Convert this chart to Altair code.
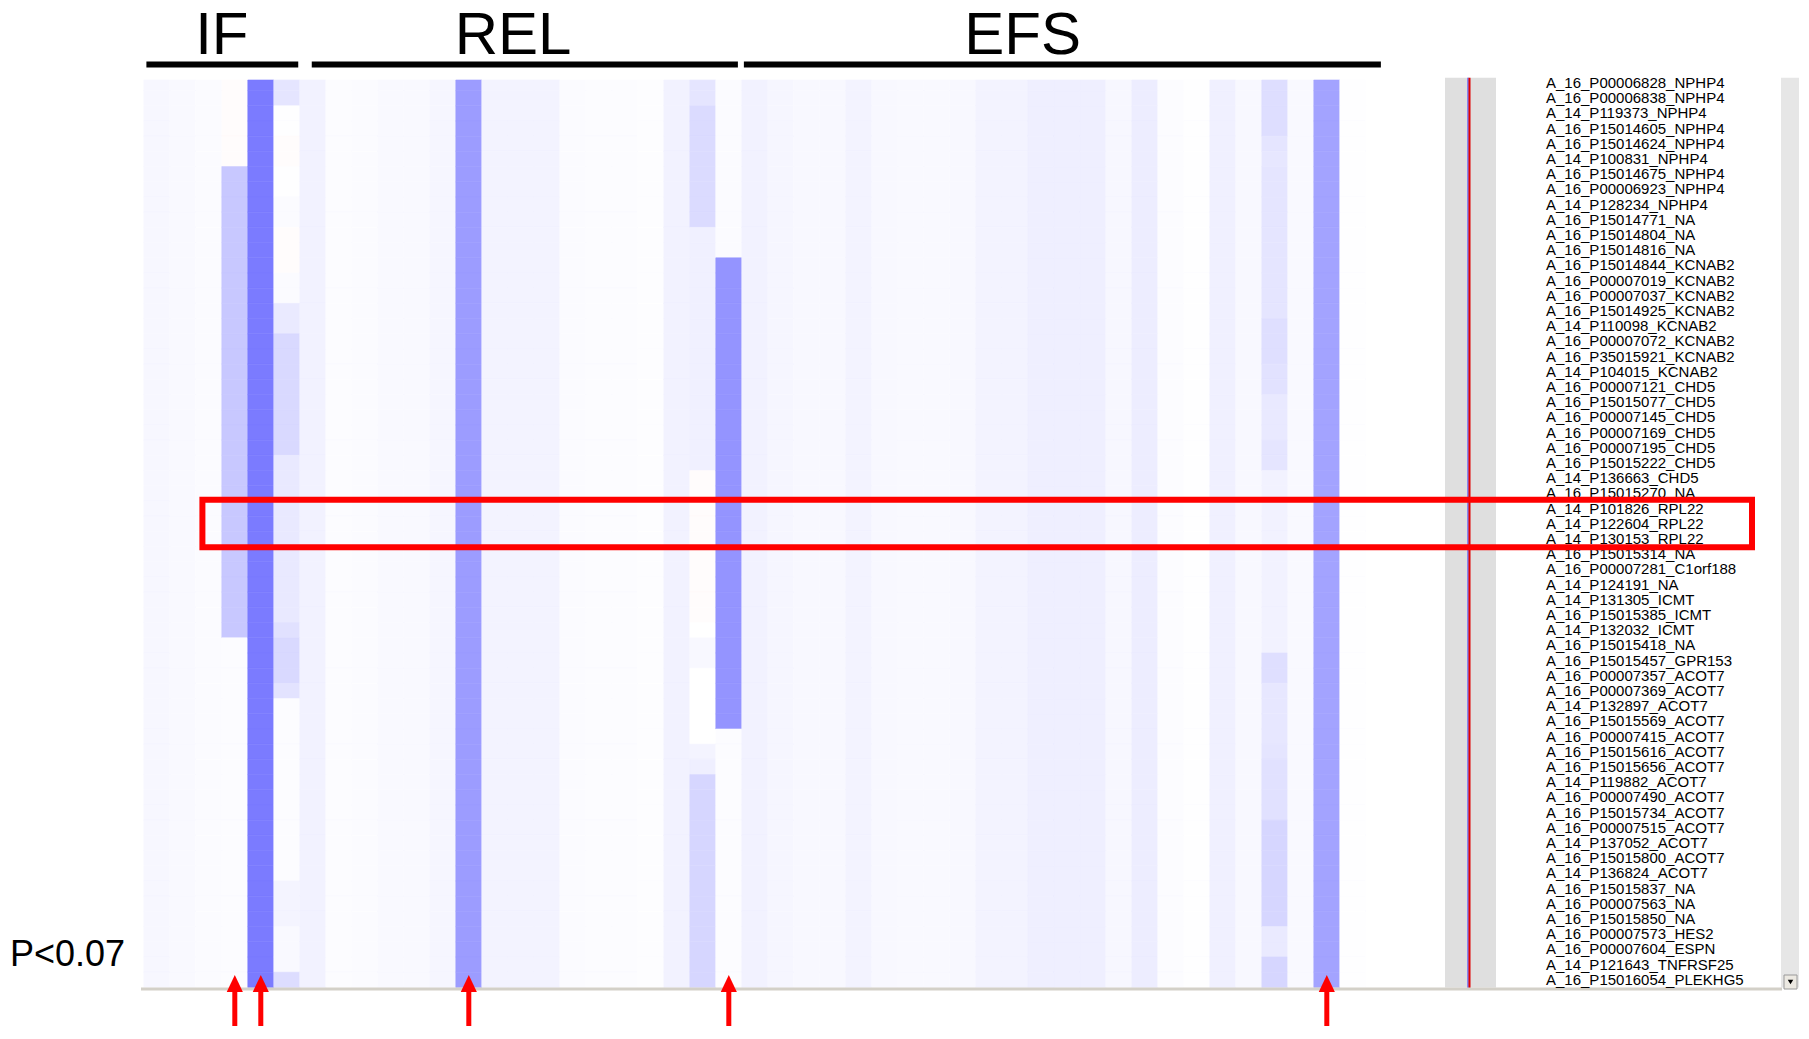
import altair as alt
import pandas as pd

# ---------------- data ----------------
labels = [
    "A_16_P00006828_NPHP4", "A_16_P00006838_NPHP4", "A_14_P119373_NPHP4",
    "A_16_P15014605_NPHP4", "A_16_P15014624_NPHP4", "A_14_P100831_NPHP4",
    "A_16_P15014675_NPHP4", "A_16_P00006923_NPHP4", "A_14_P128234_NPHP4",
    "A_16_P15014771_NA", "A_16_P15014804_NA", "A_16_P15014816_NA",
    "A_16_P15014844_KCNAB2", "A_16_P00007019_KCNAB2", "A_16_P00007037_KCNAB2",
    "A_16_P15014925_KCNAB2", "A_14_P110098_KCNAB2", "A_16_P00007072_KCNAB2",
    "A_16_P35015921_KCNAB2", "A_14_P104015_KCNAB2", "A_16_P00007121_CHD5",
    "A_16_P15015077_CHD5", "A_16_P00007145_CHD5", "A_16_P00007169_CHD5",
    "A_16_P00007195_CHD5", "A_16_P15015222_CHD5", "A_14_P136663_CHD5",
    "A_16_P15015270_NA", "A_14_P101826_RPL22", "A_14_P122604_RPL22",
    "A_14_P130153_RPL22", "A_16_P15015314_NA", "A_16_P00007281_C1orf188",
    "A_14_P124191_NA", "A_14_P131305_ICMT", "A_16_P15015385_ICMT",
    "A_14_P132032_ICMT", "A_16_P15015418_NA", "A_16_P15015457_GPR153",
    "A_16_P00007357_ACOT7", "A_16_P00007369_ACOT7", "A_14_P132897_ACOT7",
    "A_16_P15015569_ACOT7", "A_16_P00007415_ACOT7", "A_16_P15015616_ACOT7",
    "A_16_P15015656_ACOT7", "A_14_P119882_ACOT7", "A_16_P00007490_ACOT7",
    "A_16_P15015734_ACOT7", "A_16_P00007515_ACOT7", "A_14_P137052_ACOT7",
    "A_16_P15015800_ACOT7", "A_14_P136824_ACOT7", "A_16_P15015837_NA",
    "A_16_P00007563_NA", "A_16_P15015850_NA", "A_16_P00007573_HES2",
    "A_16_P00007604_ESPN", "A_14_P121643_TNFRSF25", "A_16_P15016054_PLEKHG5",
]
assert len(labels) == 60

# value of each sample column (constant down the column)
col_base = [
    0.06, 0.045, 0.03, 0.42, 1.0, 0.03,            # IF   (0-5)
    0.10, 0.025, 0.03, 0.045, 0.045, 0.07, 0.75,    # REL  (6-12)
    0.09, 0.09, 0.09, 0.03, 0.025, 0.025, 0.015,
    0.10, 0.11, 0.81,                               # REL  (13-22)
    0.10, 0.07, 0.05, 0.05, 0.09, 0.05, 0.045,      # EFS  (23-29)
    0.045, 0.05, 0.09, 0.09, 0.12, 0.12, 0.12,      # EFS  (30-36)
    0.06, 0.14, 0.02, 0.005, 0.11, 0.05, 0.20,      # EFS  (37-43)
    0.045, 0.70, 0.01,                              # EFS  (44-46)
]

# columns whose value changes down the rows
col3 = [-0.02] * 6 + [0.42] * 31 + [0.02] * 23
col5 = ([0.2] * 2 + [0.005] * 2 + [-0.02] * 2 + [0.005] * 2 + [0.03] * 2
        + [-0.02] * 3 + [0.03] * 2 + [0.16] * 2 + [0.29] * 8 + [0.17] * 11
        + [0.23] + [0.29] * 3 + [0.21] + [0.025] * 12 + [0.08] * 3
        + [0.045] * 3 + [0.26])
col21 = ([0.2] * 2 + [0.27] * 8 + [0.11] * 16 + [-0.02] * 10 + [0.0]
         + [0.05] * 2 + [0.0] * 5 + [0.08] + [0.12] + [0.31] * 14)
col22 = [0.03] * 12 + [0.81] * 31 + [0.025] * 17
col43 = ([0.25] * 4 + [0.2] + [0.18] + [0.2] * 10 + [0.24] * 3 + [0.22] * 2
         + [0.17] * 3 + [0.2] * 2 + [0.1] * 12 + [0.24] * 2 + [0.18] * 4
         + [0.2] + [0.23] * 4 + [0.31] * 7 + [0.16] * 2 + [0.31] * 2)
col_profiles = {3: col3, 5: col5, 21: col21, 22: col22, 43: col43}
for v in col_profiles.values():
    assert len(v) == 60

group_names = ["IF", "REL", "EFS"]
group_start = [0.10, 6.46, 23.08]     # in column units
group_end = [5.94, 22.85, 47.58]
group_label_x = [3.0, 14.2, 33.8]

arrow_cols = [3, 4, 12, 22, 45]
highlight_rows = [28, 29, 30]          # RPL22 probes
p_text = "P<0.07"

# ---------------- layout (pixels -> scale units) ----------------
W, H = 1793, 1018
X0, CW = 135.8, 26.0      # left edge of column 0, column width (px)
Y0, RH = 67.4, 15.2       # top of row 0, row height (px)
U0, U1 = -X0 / CW, (W - X0) / CW
V0, V1 = -Y0 / RH, (H - Y0) / RH
VIEW_TOP = (72 - Y0) / RH  # heatmap scrolled: row 0 partly hidden

XS = alt.Scale(domain=[U0, U1], nice=False, zero=False)
YS = alt.Scale(domain=[V0, V1], nice=False, zero=False, reverse=True)
CS = alt.Scale(domain=[-1, 0, 1], range=["#ff7b7b", "#ffffff", "#7b7bff"],
               interpolate="rgb")


def X(f):
    return alt.X(f, type="quantitative", scale=XS, axis=None)


def Y(f):
    return alt.Y(f, type="quantitative", scale=YS, axis=None)


# ---------------- heatmap table ----------------
recs = []
for c in range(len(col_base)):
    vals = col_profiles.get(c, [col_base[c]] * 60)
    for r in range(60):
        recs.append({"col": c, "row": r, "value": vals[r]})
heat_df = pd.DataFrame(recs)

heat = alt.Chart(heat_df).transform_calculate(
    c2="datum.col + 1",
    r1=f"max(datum.row, {VIEW_TOP})",
    r2="datum.row + 1",
).mark_rect(strokeWidth=0.6).encode(
    x=X("col"), x2="c2:Q", y=Y("r1"), y2="r2:Q",
    color=alt.Color("value:Q", scale=CS, legend=None),
    stroke=alt.Stroke("value:Q", scale=CS, legend=None),
)

# grey side panel with red marker line, and right scroll strip
panel_df = pd.DataFrame({
    "x": [(1437 - X0) / CW, (1773 - X0) / CW],
    "x2": [(1488 - X0) / CW, (1791 - X0) / CW],
    "y": [(69.7 - Y0) / RH, (69.7 - Y0) / RH],
    "y2": [60.0, 60.0],
    "fill": ["#dfdfdf", "#e6e6e6"],
})
panels = alt.Chart(panel_df).mark_rect().encode(
    x=X("x"), x2="x2:Q", y=Y("y"), y2="y2:Q",
    color=alt.Color("fill:N", scale=None),
)

line_df = pd.DataFrame({
    "x": [(1460 - X0) / CW, (1461.5 - X0) / CW],
    "y": [(69.7 - Y0) / RH] * 2,
    "y2": [60.1, 60.1],
    "c": ["#3030ff", "#e00000"],
    "w": [1.0, 2.0],
})
marker = alt.Chart(line_df).mark_rule().encode(
    x=X("x"), y=Y("y"), y2="y2:Q",
    color=alt.Color("c:N", scale=None),
    strokeWidth=alt.StrokeWidth("w:Q", scale=None),
)

# bottom scroll line
bottom_df = pd.DataFrame({"x": [(133 - X0) / CW], "x2": [(1774 - X0) / CW],
                          "y": [(981 - Y0) / RH]})
bottom = alt.Chart(bottom_df).mark_rule(color="#d3d0c8", strokeWidth=3).encode(
    x=X("x"), x2="x2:Q", y=Y("y"))

# header group bars and names
grp_df = pd.DataFrame({"name": group_names, "s": group_start, "e": group_end,
                       "lx": group_label_x})
grp_bars = alt.Chart(grp_df).transform_calculate(
    yb=str((56.5 - Y0) / RH)
).mark_rule(color="black", strokeWidth=6).encode(
    x=X("s"), x2="e:Q", y=Y("yb"))
grp_text = alt.Chart(grp_df).transform_calculate(
    yt=str((46.2 - Y0) / RH)
).mark_text(font="Liberation Sans", fontSize=60, color="black",
            align="center", baseline="alphabetic").encode(
    x=X("lx"), y=Y("yt"), text="name:N")

# probe labels
lab_df = pd.DataFrame({"label": labels, "row": list(range(60))})
lab = alt.Chart(lab_df).transform_calculate(
    yc="datum.row + 0.5", xl=str((1538 - X0) / CW)
).mark_text(font="Liberation Sans", fontSize=15, color="black",
            align="left", baseline="middle").encode(
    x=X("xl"), y=Y("yc"), text="label:N")

# scroll button over the last label
btn_df = pd.DataFrame({"x": [(1776 - X0) / CW], "x2": [(1789 - X0) / CW],
                       "y": [(967 - Y0) / RH], "y2": [(981 - Y0) / RH]})
btn = alt.Chart(btn_df).mark_rect(fill="#ece9e2", stroke="#9a9a9a",
                                  strokeWidth=1).encode(
    x=X("x"), x2="x2:Q", y=Y("y"), y2="y2:Q")
btn_tri = alt.Chart(btn_df).transform_calculate(
    xc="(datum.x + datum.x2) / 2", yc="(datum.y + datum.y2) / 2"
).mark_point(shape="triangle-down", filled=True, color="black", size=30,
             opacity=1).encode(x=X("xc"), y=Y("yc"))

# red highlight rectangle
hl_df = pd.DataFrame({"x": [(194.4 - X0) / CW], "x2": [(1744 - X0) / CW],
                      "y": [min(highlight_rows) - 0.09],
                      "y2": [max(highlight_rows) + 1.05]})
hl = alt.Chart(hl_df).mark_rect(filled=False, stroke="#ff0000",
                                strokeWidth=6).encode(
    x=X("x"), x2="x2:Q", y=Y("y"), y2="y2:Q")

# P-value note
p_df = pd.DataFrame({"t": [p_text], "x": [(2 - X0) / CW],
                     "y": [(958 - Y0) / RH]})
ptxt = alt.Chart(p_df).mark_text(font="Liberation Sans", fontSize=36,
                                 color="black", align="left",
                                 baseline="alphabetic").encode(
    x=X("x"), y=Y("y"), text="t:N")

# red arrows under significant columns
arr_df = pd.DataFrame({"col": arrow_cols})
arr_shaft = alt.Chart(arr_df).transform_calculate(
    xc="datum.col + 0.5", y1=str((975.5 - Y0) / RH), y2=str(V1)
).mark_rule(color="#ff0000", strokeWidth=5).encode(
    x=X("xc"), y=Y("y1"), y2="y2:Q")
arr_head = alt.Chart(arr_df).transform_calculate(
    xc="datum.col + 0.5", yh=str((975.5 - Y0) / RH)
).mark_point(shape="M0,-1L-0.95,1L0.95,1Z", filled=True, color="#ff0000",
             size=289, opacity=1).encode(x=X("xc"), y=Y("yh"))

chart = alt.layer(
    panels, heat, marker, bottom, grp_bars, grp_text, lab, btn, btn_tri,
    hl, ptxt, arr_shaft, arr_head,
).properties(
    width=W, height=H, padding=0,
    autosize=alt.AutoSizeParams(type="none"),
    background="white",
).configure_view(stroke=None)

chart.save("out.html", embed_options={"renderer": "svg", "actions": False})
